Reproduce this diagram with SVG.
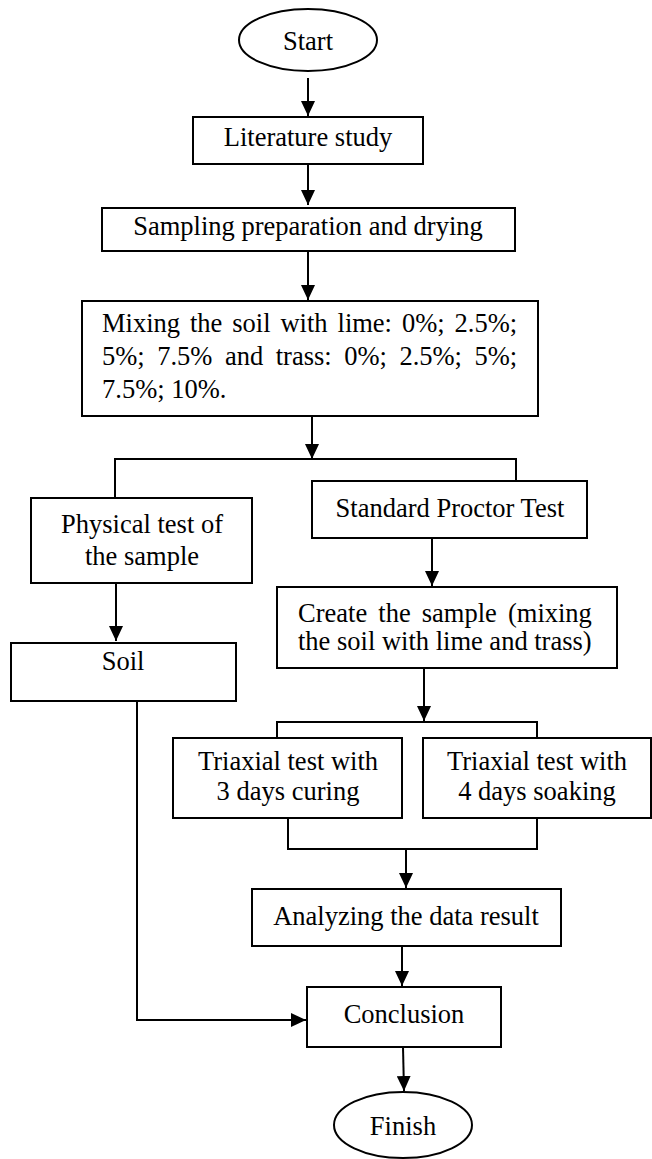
<svg xmlns="http://www.w3.org/2000/svg" width="652" height="1159" viewBox="0 0 652 1159">
<style>
.b{fill:#fff;stroke:#000;stroke-width:2}
.t{font-family:"Liberation Serif","Times New Roman",serif;font-size:26.5px;fill:#000}
.c{text-anchor:middle}
.l{fill:none;stroke:#000;stroke-width:2}
.a{fill:none;stroke:#000;stroke-width:2;marker-end:url(#ah)}
</style>
<defs>
<marker id="ah" markerUnits="userSpaceOnUse" markerWidth="15" markerHeight="14" refX="15" refY="7" orient="auto">
<path d="M0,0 L15,7 L0,14 z" fill="#000"/>
</marker>
</defs>
<rect width="652" height="1159" fill="#fff"/>
<g id="connectors">
<line class="a" x1="308" y1="78" x2="308" y2="116"/>
<line class="a" x1="308" y1="164" x2="308" y2="205"/>
<line class="a" x1="308" y1="252" x2="308" y2="300"/>
<line class="a" x1="312" y1="416" x2="312" y2="459"/>
<polyline class="l" points="115,498 115,459 516,459 516,481"/>
<line class="a" x1="116" y1="583" x2="116" y2="641"/>
<line class="a" x1="432" y1="538" x2="432" y2="586"/>
<line class="a" x1="424" y1="668" x2="424" y2="721"/>
<polyline class="l" points="277,738 277,722 537,722 537,738"/>
<polyline class="l" points="288,818 288,849 537,849 537,818"/>
<line class="a" x1="406" y1="849" x2="406" y2="888"/>
<line class="a" x1="402" y1="946" x2="402" y2="986"/>
<polyline class="a" points="137,701 137,1020 306,1020"/>
<line class="a" x1="403" y1="1047" x2="404" y2="1091"/>
</g>
<g id="start">
<ellipse class="b" cx="308" cy="40" rx="69" ry="31"/>
<text class="t c" x="308" y="50">Start</text>
</g>
<g id="literature">
<rect class="b" x="193" y="117" width="230" height="47"/>
<text class="t c" x="308" y="146">Literature study</text>
</g>
<g id="sampling">
<rect class="b" x="102" y="208" width="413" height="43"/>
<text class="t c" x="308" y="235">Sampling preparation and drying</text>
</g>
<g id="mixing">
<rect class="b" x="82" y="301" width="456" height="115"/>
<text class="t" x="102" y="332" style="word-spacing:3.3px">Mixing the soil with lime: 0%; 2.5%;</text>
<text class="t" x="102" y="365" style="word-spacing:5.9px">5%; 7.5% and trass: 0%; 2.5%; 5%;</text>
<text class="t" x="102" y="398">7.5%; 10%.</text>
</g>
<g id="physical">
<rect class="b" x="31" y="498" width="221" height="85"/>
<text class="t c" x="142" y="533">Physical test of</text>
<text class="t c" x="142" y="565">the sample</text>
</g>
<g id="proctor">
<rect class="b" x="312" y="481" width="275" height="57"/>
<text class="t c" x="450" y="517">Standard Proctor Test</text>
</g>
<g id="soil">
<rect class="b" x="11" y="643" width="225" height="58"/>
<text class="t c" x="123" y="670">Soil</text>
</g>
<g id="create">
<rect class="b" x="277" y="587" width="340" height="81"/>
<text class="t" x="298" y="622" style="word-spacing:4.5px">Create the sample (mixing</text>
<text class="t" x="298" y="650">the soil with lime and trass)</text>
</g>
<g id="triaxial-curing">
<rect class="b" x="173" y="738" width="229" height="80"/>
<text class="t c" x="288" y="770">Triaxial test with</text>
<text class="t c" x="288" y="800">3 days curing</text>
</g>
<g id="triaxial-soaking">
<rect class="b" x="423" y="738" width="228" height="80"/>
<text class="t c" x="537" y="770">Triaxial test with</text>
<text class="t c" x="537" y="800">4 days soaking</text>
</g>
<g id="analyzing">
<rect class="b" x="252" y="889" width="309" height="57"/>
<text class="t c" x="406" y="925">Analyzing the data result</text>
</g>
<g id="conclusion">
<rect class="b" x="307" y="987" width="194" height="60"/>
<text class="t c" x="404" y="1023">Conclusion</text>
</g>
<g id="finish">
<ellipse class="b" cx="403" cy="1125" rx="69" ry="33"/>
<text class="t c" x="403" y="1135">Finish</text>
</g>
</svg>
